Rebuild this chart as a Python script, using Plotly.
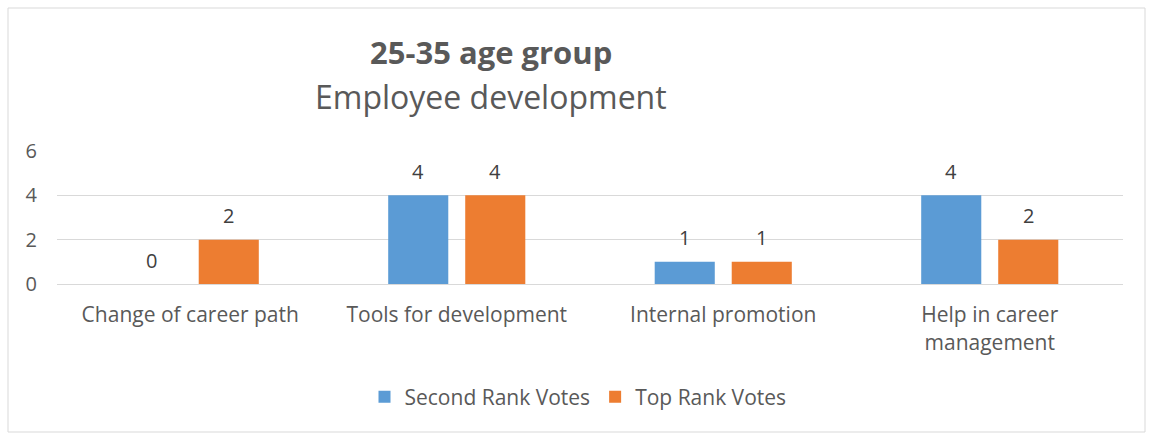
import plotly.graph_objects as go

categories = ["Change of career path", "Tools for development", "Internal promotion", "Help in career<br>management"]
second_rank = [0, 4, 1, 4]
top_rank = [2, 4, 1, 2]
series_names = ["Second Rank Votes", "Top Rank Votes"]
colors = ["#5B9BD5", "#ED7D31"]
y_ticks = [0, 2, 4, 6]

FONT = "Open Sans"
GREY = "#595959"

W, H = 1151, 437
L, R, T, B = 57, 28, 151, 153
pw, ph = W - L - R, H - T - B

def px_x(x):
    return (x - L) / pw

def px_y(y):
    return (H - B - y) / ph

fig = go.Figure()
for name, vals, col in zip(series_names, [second_rank, top_rank], colors):
    fig.add_trace(go.Bar(name=name, x=categories, y=vals, marker_color=col,
                         marker_line_width=0))

annotations = []
for i, (vals, off) in enumerate(zip([second_rank, top_rank], [-0.5, 0.5])):
    for ci, v in enumerate(vals):
        annotations.append(dict(x=ci + off * 0.289, y=v, xref="x", yref="y",
                                text=str(v), showarrow=False, yshift=24, yanchor="middle",
                                font=dict(family=FONT, size=20, color="#404040")))

annotations.append(dict(x=px_x(491), y=px_y(52), xref="paper", yref="paper",
                        text="<b>25-35 age group</b>", showarrow=False, yanchor="middle",
                        font=dict(family=FONT, size=31, color=GREY)))
annotations.append(dict(x=px_x(491), y=px_y(97), xref="paper", yref="paper",
                        text="Employee development", showarrow=False, yanchor="middle",
                        font=dict(family=FONT, size=32, color=GREY)))

fig.update_layout(
    width=W, height=H,
    margin=dict(l=L, r=R, t=T, b=B, autoexpand=False),
    paper_bgcolor="white", plot_bgcolor="white",
    barmode="group", bargap=0.422, bargroupgap=0.22,
    showlegend=True,
    legend=dict(orientation="h", x=px_x(578), y=px_y(397), xanchor="center", yanchor="middle",
                font=dict(family=FONT, size=21, color=GREY), itemwidth=30,
                traceorder="normal"),
    annotations=annotations,
    shapes=[dict(type="rect", xref="paper", yref="paper",
                 x0=px_x(8), x1=px_x(1145), y0=px_y(432), y1=px_y(8),
                 line=dict(color="#d9d9d9", width=1), layer="below")],
    font=dict(family=FONT, color=GREY),
)
fig.update_xaxes(type="category", showgrid=False, showline=True, linecolor="#d9d9d9",
                 ticks="", tickfont=dict(family=FONT, size=21, color=GREY),
                 ticklabelstandoff=12)
fig.update_yaxes(range=[0, 6], tickvals=y_ticks, showgrid=True, gridcolor="#d9d9d9",
                 zeroline=False, showline=False, ticks="",
                 tickfont=dict(family=FONT, size=20, color=GREY), ticklabelstandoff=19)

fig.write_html("out.html")
